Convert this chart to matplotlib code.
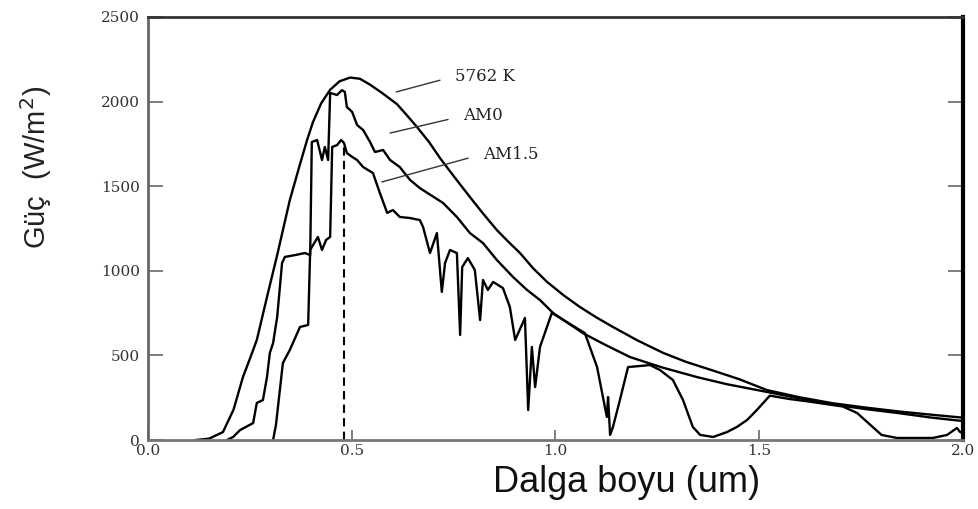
import numpy as np
import matplotlib.pyplot as plt

# 5762 K kara cisim egrisi (um, W/m2)
bb_dalga = [0.118, 0.15, 0.184, 0.21, 0.233, 0.25, 0.267, 0.292, 0.317, 0.348, 0.373, 0.39,
            0.405, 0.425, 0.447, 0.47, 0.496, 0.52, 0.545, 0.575, 0.611, 0.635, 0.660, 0.69,
            0.717, 0.75, 0.79, 0.82, 0.856, 0.885, 0.913, 0.945, 0.979, 1.02, 1.06, 1.10,
            1.141, 1.20, 1.264, 1.32, 1.387, 1.45, 1.519, 1.60, 1.681, 1.76, 1.845, 1.92, 2.0]
bb_guc = [0, 8, 47, 180, 372, 480, 591, 845, 1093, 1418, 1630, 1770,
          1880, 1990, 2070, 2120, 2142, 2135, 2100, 2050, 1985, 1920, 1850, 1760,
          1665, 1560, 1436, 1345, 1241, 1170, 1105, 1015, 935, 855, 786, 725,
          668, 590, 515, 462, 410, 360, 295, 252, 217, 192, 168, 150, 132]

# AM0
am0_dalga = [0.194, 0.209, 0.226, 0.258, 0.267, 0.282, 0.292, 0.299, 0.307, 0.317, 0.329,
             0.336, 0.361, 0.385, 0.398, 0.402, 0.415, 0.427, 0.434, 0.442, 0.447, 0.464,
             0.476, 0.483, 0.488, 0.501, 0.513, 0.528, 0.545, 0.557, 0.577, 0.594, 0.618,
             0.643, 0.667, 0.724, 0.758, 0.790, 0.822, 0.856, 0.896, 0.930, 0.962, 0.994,
             1.067, 1.12, 1.183, 1.26, 1.347, 1.42, 1.502, 1.59, 1.681, 1.76, 1.845, 1.92, 2.0]
am0_guc = [0, 18, 59, 100, 219, 236, 372, 514, 573, 727, 1046,
           1082, 1093, 1105, 1093, 1761, 1773, 1655, 1732, 1655, 2051, 2039,
           2068, 2057, 1968, 1939, 1862, 1832, 1761, 1702, 1714, 1655, 1613,
           1537, 1489, 1401, 1318, 1223, 1164, 1064, 963, 887, 827, 751,
           632, 565, 490, 430, 372, 330, 292, 250, 210, 183, 158, 133, 112]

# AM1.5
am15_dalga = [0.307, 0.314, 0.331, 0.348, 0.373, 0.393, 0.398, 0.405, 0.417, 0.427, 0.437,
              0.447, 0.452, 0.464, 0.474, 0.481, 0.488, 0.501, 0.513, 0.528, 0.552, 0.569,
              0.587, 0.601, 0.618, 0.643, 0.667, 0.675, 0.692, 0.709, 0.721, 0.729, 0.741,
              0.758, 0.766, 0.771, 0.785, 0.802, 0.815, 0.822, 0.834, 0.847, 0.871, 0.888,
              0.901, 0.925, 0.933, 0.942, 0.950, 0.962, 0.991, 1.072, 1.102, 1.126, 1.129,
              1.134, 1.141, 1.158, 1.178, 1.232, 1.256, 1.288, 1.313, 1.337, 1.355, 1.387,
              1.421, 1.445, 1.470, 1.494, 1.526, 1.575, 1.620, 1.665, 1.705, 1.740, 1.770,
              1.800, 1.838, 1.926, 1.961, 1.985, 1.993, 2.0]
am15_guc = [0, 89, 455, 532, 668, 680, 1123, 1152, 1200, 1123, 1182,
            1200, 1732, 1743, 1773, 1755, 1696, 1673, 1655, 1613, 1578, 1460,
            1342, 1359, 1318, 1312, 1300, 1259, 1105, 1223, 875, 1046, 1123,
            1105, 621, 1022, 1075, 1005, 709, 946, 887, 934, 898, 786,
            591, 721, 177, 550, 313, 550, 751, 632, 431, 136, 254,
            30, 77, 236, 431, 443, 414, 355, 236, 77, 30, 18,
            47, 77, 118, 177, 262, 242, 228, 212, 198, 160, 95,
            30, 12, 12, 30, 71, 47, 40]

etiketler = ['5762 K', 'AM0', 'AM1.5']

fig = plt.figure(figsize=(9.79, 5.09), dpi=100)
ax = fig.add_axes([148 / 979, 1 - 440 / 509, 815 / 979, 423 / 509])

ax.plot(bb_dalga, bb_guc, color='black', lw=1.7)
ax.plot(am0_dalga, am0_guc, color='black', lw=1.7)
ax.plot(am15_dalga, am15_guc, color='black', lw=1.7)

# tepe noktasindaki kesikli cizgi
tepe = 0.48
ax.plot([tepe, tepe], [0, np.interp(tepe, am15_dalga, am15_guc)], color='black',
        lw=1.5, ls=(0, (4, 2.5)))

# egri etiketleri
ucu = [(0.609, 2057), (0.594, 1814), (0.574, 1525)]
yazi = [(0.753, 2150), (0.773, 1915), (0.822, 1690)]
for et, u, y in zip(etiketler, ucu, yazi):
    ax.annotate(et, xy=u, xytext=y, ha='left', va='center', fontsize=12,
                family='DejaVu Serif', color='#222222',
                arrowprops=dict(arrowstyle='-', color='#333333', lw=1.0,
                                relpos=(0, 0.5), shrinkA=9, shrinkB=0))

ax.set_xlim(0, 2.0)
ax.set_ylim(0, 2500)
ax.set_xticks([0.0, 0.5, 1.0, 1.5, 2.0])
ax.set_xticklabels(['0.0', '0.5', '1.0', '1.5', '2.0'])
ax.set_yticks([0, 500, 1000, 1500, 2000, 2500])

for lab in ax.get_xticklabels() + ax.get_yticklabels():
    lab.set_family('DejaVu Serif')
    lab.set_fontsize(11)
    lab.set_color('#333333')

ax.tick_params(axis='y', direction='in', length=11, width=1.2, color='#666666',
               pad=6, right=True)
ax.tick_params(axis='x', direction='in', length=7, width=1.2, color='#666666', pad=3)

ax.spines['left'].set_color('#666666')
ax.spines['left'].set_linewidth(2)
ax.spines['bottom'].set_color('#777777')
ax.spines['bottom'].set_linewidth(2)
ax.spines['top'].set_color('#333333')
ax.spines['top'].set_linewidth(2)
ax.spines['right'].set_color('black')
ax.spines['right'].set_linewidth(3)

fig.text(36 / 979, 1 - 167 / 509, 'Güç  (W/m$^2$)', rotation=90, ha='center', va='center',
         fontsize=21, family='Liberation Sans', color='#222222')
fig.text(627 / 979, 1 - 483 / 509, 'Dalga boyu (um)', ha='center', va='center',
         fontsize=26, family='Liberation Sans', color='#111111')

fig.savefig('out.png', dpi=100)
